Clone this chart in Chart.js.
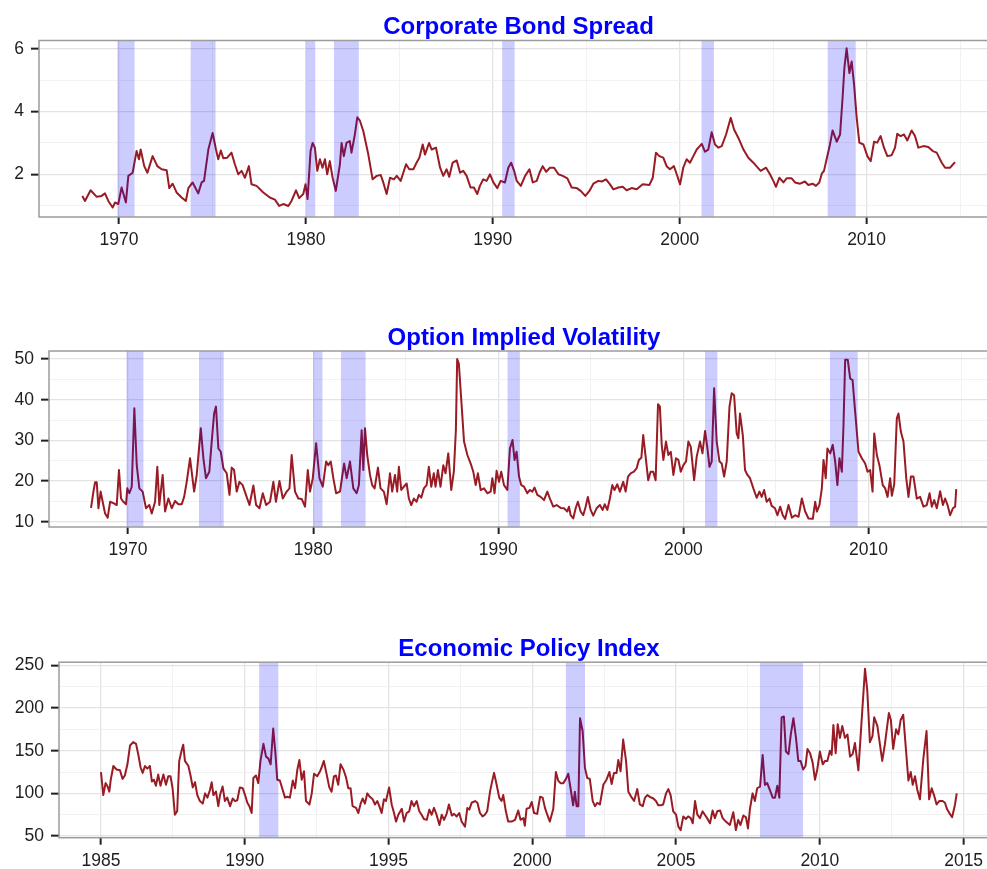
<!DOCTYPE html>
<html><head><meta charset="utf-8">
<script src="https://cdn.jsdelivr.net/npm/chart.js@4.4.1/dist/chart.umd.min.js"></script>
<style>
html,body{margin:0;padding:0;background:#fff;overflow:hidden;}
#wrap{position:relative;width:987px;height:869px;overflow:hidden;background:#fff;}
canvas{position:absolute;left:0;}
</style></head><body>
<div id="wrap">
<canvas id="c1" width="1000" height="262" style="top:0px"></canvas>
<canvas id="c2" width="1000" height="272" style="top:300px"></canvas>
<canvas id="c3" width="1000" height="269" style="top:600px"></canvas>
</div>
<script>
// ---------- DATA ----------
const recessionStart = [1969.917, 1973.833, 1980.0, 1981.5, 1990.5, 2001.167, 2007.917];
const recessionEnd   = [1970.833, 1975.167, 1980.5, 1982.833, 1991.167, 2001.833, 2009.417];

// Corporate Bond Spread
const cbsYears = [1968.04,1968.18,1968.48,1968.81,1969.07,1969.25,1969.43,1969.66,1969.79,1969.96,1970.14,1970.37,1970.50,1970.73,1970.94,1971.07,1971.16,1971.35,1971.52,1971.80,1972.05,1972.28,1972.55,1972.69,1972.87,1973.08,1973.35,1973.58,1973.71,1973.94,1974.24,1974.42,1974.55,1974.78,1975.01,1975.19,1975.31,1975.45,1975.58,1975.79,1976.02,1976.20,1976.38,1976.56,1976.74,1976.95,1977.09,1977.36,1977.72,1978.07,1978.34,1978.57,1978.79,1979.06,1979.23,1979.47,1979.64,1979.86,1979.98,1980.09,1980.25,1980.36,1980.48,1980.61,1980.75,1980.89,1981.02,1981.14,1981.28,1981.43,1981.60,1981.82,1981.91,1982.03,1982.17,1982.35,1982.44,1982.62,1982.75,1982.89,1983.07,1983.34,1983.57,1983.79,1984.00,1984.14,1984.32,1984.50,1984.71,1984.86,1985.07,1985.36,1985.53,1985.75,1985.92,1986.07,1986.25,1986.37,1986.59,1986.73,1986.96,1987.18,1987.35,1987.53,1987.67,1987.85,1988.07,1988.25,1988.42,1988.60,1988.81,1988.99,1989.17,1989.31,1989.49,1989.67,1989.85,1990.03,1990.24,1990.42,1990.65,1990.83,1990.98,1991.14,1991.28,1991.50,1991.73,1991.96,1992.14,1992.35,1992.50,1992.67,1992.85,1993.06,1993.28,1993.51,1993.74,1993.99,1994.22,1994.49,1994.70,1994.95,1995.17,1995.38,1995.65,1995.83,1996.06,1996.27,1996.45,1996.72,1996.95,1997.16,1997.43,1997.70,1998.02,1998.38,1998.56,1998.73,1998.91,1999.12,1999.30,1999.48,1999.69,1999.84,2000.02,2000.19,2000.37,2000.55,2000.73,2000.91,2001.18,2001.35,2001.53,2001.71,2001.89,2002.07,2002.25,2002.48,2002.73,2002.91,2003.14,2003.41,2003.67,2003.94,2004.15,2004.33,2004.62,2004.83,2005.01,2005.15,2005.33,2005.55,2005.72,2005.99,2006.17,2006.44,2006.70,2006.88,2007.11,2007.29,2007.47,2007.60,2007.72,2007.86,2008.04,2008.18,2008.40,2008.58,2008.72,2008.81,2008.93,2009.08,2009.20,2009.33,2009.47,2009.61,2009.83,2010.04,2010.22,2010.40,2010.57,2010.75,2010.93,2011.11,2011.34,2011.52,2011.64,2011.82,2012.00,2012.18,2012.41,2012.59,2012.77,2013.04,2013.30,2013.54,2013.75,2014.02,2014.20,2014.46,2014.73];
const cbsValues = [1.31,1.15,1.49,1.28,1.31,1.39,1.15,0.94,1.10,1.05,1.58,1.10,1.95,2.05,2.74,2.48,2.79,2.26,2.05,2.58,2.26,2.16,2.13,1.56,1.70,1.42,1.26,1.15,1.56,1.74,1.39,1.74,1.79,2.79,3.32,2.79,2.48,2.76,2.51,2.53,2.69,2.32,2.00,2.11,1.89,2.26,1.68,1.63,1.42,1.26,1.19,0.99,1.05,0.99,1.15,1.49,1.24,1.37,1.68,1.21,2.74,3.00,2.85,2.11,2.48,2.21,2.48,2.00,2.42,1.89,1.47,2.32,3.00,2.58,3.00,3.06,2.69,3.27,3.82,3.71,3.38,2.63,1.84,1.95,1.98,1.74,1.37,1.89,1.84,1.95,1.79,2.32,2.16,2.16,2.37,2.53,2.95,2.63,3.00,2.79,2.85,2.21,1.95,2.16,1.92,2.37,2.44,2.05,2.11,1.95,1.58,1.58,1.37,1.63,1.84,1.79,2.00,1.74,1.56,1.79,1.74,2.21,2.37,2.11,1.79,1.63,1.95,2.16,1.74,1.79,2.05,2.26,2.08,2.21,2.21,2.00,1.95,1.87,1.58,1.56,1.47,1.31,1.47,1.70,1.79,1.77,1.84,1.68,1.52,1.58,1.60,1.49,1.56,1.52,1.68,1.66,1.89,2.69,2.58,2.53,2.26,2.16,2.26,2.00,1.68,2.21,2.48,2.37,2.58,2.79,2.97,2.72,2.79,3.34,2.95,2.85,2.90,3.27,3.80,3.43,3.16,2.79,2.53,2.37,2.23,2.11,2.21,2.00,1.79,1.60,1.89,1.74,1.87,1.87,1.74,1.70,1.77,1.66,1.70,1.63,1.74,2.02,2.11,2.48,2.95,3.40,3.04,3.27,4.49,5.39,6.02,5.23,5.60,4.86,3.80,3.01,2.95,2.58,2.42,3.04,3.01,3.22,2.85,2.58,2.61,2.85,3.29,3.22,3.27,3.08,3.40,3.22,2.85,2.90,2.87,2.74,2.69,2.37,2.21,2.21,2.39];

// Option Implied Volatility
const oivYears = [1968.00,1968.13,1968.22,1968.31,1968.40,1968.52,1968.63,1968.76,1968.90,1969.03,1969.24,1969.39,1969.51,1969.62,1969.75,1969.89,1969.96,1970.07,1970.20,1970.34,1970.47,1970.61,1970.79,1970.97,1971.15,1971.28,1971.46,1971.58,1971.69,1971.87,1972.00,1972.18,1972.36,1972.54,1972.72,1972.90,1973.03,1973.17,1973.35,1973.57,1973.71,1973.93,1974.07,1974.21,1974.39,1974.52,1974.65,1974.75,1974.88,1975.01,1975.15,1975.33,1975.48,1975.60,1975.73,1975.87,1976.02,1976.19,1976.37,1976.56,1976.77,1976.92,1977.10,1977.28,1977.46,1977.67,1977.85,1977.99,1978.18,1978.36,1978.57,1978.72,1978.84,1979.02,1979.20,1979.38,1979.56,1979.71,1979.83,1979.98,1980.16,1980.34,1980.52,1980.70,1980.82,1980.95,1981.09,1981.24,1981.45,1981.67,1981.81,1981.99,1982.17,1982.35,1982.47,1982.62,1982.71,1982.80,1982.92,1983.07,1983.19,1983.32,1983.50,1983.64,1983.82,1983.97,1984.15,1984.27,1984.42,1984.54,1984.63,1984.76,1984.90,1985.05,1985.17,1985.30,1985.44,1985.59,1985.71,1985.84,1985.98,1986.13,1986.25,1986.38,1986.52,1986.61,1986.74,1986.88,1987.03,1987.15,1987.30,1987.46,1987.60,1987.71,1987.78,1987.87,1988.02,1988.15,1988.33,1988.51,1988.65,1988.78,1988.90,1989.05,1989.23,1989.41,1989.59,1989.68,1989.80,1989.91,1990.04,1990.16,1990.31,1990.49,1990.63,1990.77,1990.88,1990.99,1991.12,1991.24,1991.39,1991.57,1991.71,1991.84,1991.96,1992.11,1992.29,1992.47,1992.65,1992.79,1992.97,1993.15,1993.37,1993.55,1993.73,1993.82,1993.91,1994.05,1994.18,1994.30,1994.45,1994.59,1994.72,1994.84,1994.99,1995.13,1995.31,1995.49,1995.64,1995.75,1995.89,1996.03,1996.16,1996.28,1996.43,1996.57,1996.75,1996.88,1997.01,1997.15,1997.33,1997.47,1997.60,1997.73,1997.83,1997.96,1998.10,1998.23,1998.37,1998.50,1998.63,1998.73,1998.83,1998.92,1999.06,1999.19,1999.32,1999.46,1999.60,1999.73,1999.86,2000.00,2000.14,2000.27,2000.40,2000.58,2000.72,2000.90,2001.03,2001.17,2001.30,2001.41,2001.53,2001.66,2001.80,2001.95,2002.07,2002.20,2002.34,2002.49,2002.61,2002.74,2002.88,2002.97,2003.06,2003.21,2003.33,2003.46,2003.60,2003.78,2003.96,2004.11,2004.23,2004.36,2004.50,2004.65,2004.77,2004.95,2005.08,2005.23,2005.37,2005.50,2005.68,2005.86,2006.04,2006.22,2006.40,2006.58,2006.76,2006.99,2007.12,2007.21,2007.35,2007.48,2007.57,2007.69,2007.78,2007.93,2008.07,2008.20,2008.32,2008.43,2008.56,2008.65,2008.74,2008.88,2009.01,2009.14,2009.28,2009.46,2009.64,2009.82,2009.95,2010.09,2010.22,2010.31,2010.45,2010.59,2010.77,2010.90,2011.03,2011.17,2011.26,2011.39,2011.53,2011.62,2011.75,2011.89,2012.04,2012.16,2012.29,2012.43,2012.61,2012.79,2012.97,2013.15,2013.30,2013.42,2013.55,2013.69,2013.87,2014.02,2014.14,2014.27,2014.41,2014.56,2014.68,2014.74];
const oivValues = [13.4,17.4,19.7,19.7,13.3,17.4,14.9,12.0,11.0,14.9,14.5,14.1,22.7,15.7,14.9,14.3,18.2,17.0,18.6,37.9,23.9,18.2,17.4,13.3,14.1,12.0,14.9,23.5,14.1,21.5,12.5,15.7,13.3,15.1,14.3,14.3,16.1,19.8,25.6,17.4,21.5,33.0,25.6,20.7,22.3,29.7,36.6,38.3,28.0,27.2,23.1,21.9,16.6,23.3,22.7,17.4,19.8,19.0,16.6,14.1,18.9,14.1,13.3,17.0,14.1,14.9,19.8,14.9,20.0,15.7,17.4,18.2,26.4,17.4,15.7,15.6,13.7,22.7,17.4,20.7,29.3,20.7,18.6,24.8,23.9,24.8,20.7,17.0,17.4,24.3,20.7,24.8,18.2,17.0,19.0,32.5,22.7,33.0,26.4,21.5,19.0,18.2,23.3,18.2,17.4,14.3,21.9,17.4,21.5,17.4,23.5,17.8,18.6,19.4,15.7,14.1,15.7,14.9,16.6,15.9,18.2,19.0,23.5,18.6,21.9,18.6,22.7,18.6,23.9,21.9,26.8,17.8,22.3,32.5,50.0,48.9,38.7,29.7,26.4,24.3,22.3,19.0,21.9,17.8,18.2,17.0,17.4,20.7,17.0,22.5,19.8,22.3,19.0,17.8,28.0,30.1,25.2,27.2,21.1,19.0,18.6,17.0,17.8,17.4,18.4,16.6,16.1,15.3,17.4,15.7,13.7,14.1,13.4,13.3,12.5,13.7,11.6,10.8,13.3,14.9,12.5,11.6,13.7,16.1,12.9,11.5,13.3,14.1,12.9,14.3,12.9,15.7,19.0,17.8,19.2,17.4,19.8,17.4,21.1,21.9,22.3,23.1,25.2,25.7,31.3,26.0,20.2,22.3,22.3,20.2,38.9,38.3,28.9,25.2,29.7,26.4,27.2,21.5,25.6,25.2,22.3,23.9,24.8,29.7,28.4,20.2,26.0,29.7,26.8,32.3,28.0,23.5,24.8,42.8,29.7,24.8,24.3,21.1,24.8,38.3,41.6,41.1,31.7,30.5,36.6,31.3,22.7,21.5,20.7,18.2,15.9,17.4,16.1,17.8,14.9,15.7,13.9,13.3,11.6,13.7,11.6,10.7,14.1,11.0,11.6,11.2,15.7,12.5,10.8,10.7,14.9,12.5,14.1,18.2,25.2,20.7,28.0,26.8,28.9,24.8,19.0,25.6,22.3,33.8,49.8,49.8,45.2,44.8,37.0,27.2,25.6,24.3,22.3,22.7,17.4,31.7,26.4,23.9,19.0,18.2,16.1,20.7,16.4,19.2,35.4,36.6,32.1,29.7,20.7,16.1,21.1,21.1,15.7,16.1,13.7,14.1,17.0,13.7,15.3,13.3,17.5,14.1,15.7,14.1,11.6,13.3,13.7,18.0];

// Economic Policy Index
const epuYears = [1985.00,1985.08,1985.16,1985.23,1985.29,1985.34,1985.43,1985.54,1985.66,1985.75,1985.83,1985.92,1986.01,1986.12,1986.22,1986.30,1986.38,1986.45,1986.53,1986.61,1986.70,1986.77,1986.84,1986.91,1986.99,1987.07,1987.17,1987.26,1987.34,1987.42,1987.49,1987.57,1987.65,1987.72,1987.81,1987.86,1987.92,1988.04,1988.12,1988.19,1988.27,1988.35,1988.44,1988.54,1988.62,1988.70,1988.79,1988.85,1988.91,1989.00,1989.08,1989.14,1989.23,1989.31,1989.39,1989.49,1989.58,1989.66,1989.74,1989.83,1989.93,1990.01,1990.09,1990.16,1990.24,1990.30,1990.39,1990.47,1990.55,1990.65,1990.74,1990.82,1990.90,1990.99,1991.07,1991.13,1991.22,1991.32,1991.40,1991.48,1991.57,1991.67,1991.75,1991.83,1991.90,1991.98,1992.06,1992.13,1992.25,1992.33,1992.41,1992.52,1992.62,1992.67,1992.75,1992.85,1992.94,1993.02,1993.10,1993.17,1993.25,1993.33,1993.43,1993.52,1993.60,1993.68,1993.75,1993.87,1993.95,1994.03,1994.10,1994.18,1994.26,1994.35,1994.45,1994.53,1994.61,1994.68,1994.76,1994.84,1994.91,1995.02,1995.11,1995.19,1995.26,1995.34,1995.46,1995.54,1995.63,1995.72,1995.80,1995.88,1995.98,1996.07,1996.15,1996.23,1996.33,1996.42,1996.50,1996.58,1996.67,1996.77,1996.85,1996.93,1997.02,1997.10,1997.20,1997.28,1997.37,1997.46,1997.54,1997.66,1997.74,1997.81,1997.89,1998.01,1998.09,1998.18,1998.27,1998.35,1998.43,1998.53,1998.59,1998.67,1998.76,1998.85,1998.93,1998.99,1999.08,1999.16,1999.28,1999.40,1999.51,1999.59,1999.69,1999.74,1999.80,1999.90,1999.98,2000.06,2000.17,2000.27,2000.36,2000.44,2000.52,2000.61,2000.73,2000.82,2000.90,2000.98,2001.08,2001.17,2001.25,2001.33,2001.42,2001.48,2001.54,2001.60,2001.66,2001.75,2001.83,2001.91,2002.00,2002.10,2002.18,2002.26,2002.35,2002.47,2002.58,2002.68,2002.76,2002.84,2002.93,2002.99,2003.07,2003.16,2003.26,2003.34,2003.46,2003.54,2003.65,2003.74,2003.84,2003.92,2004.00,2004.09,2004.21,2004.30,2004.38,2004.46,2004.55,2004.65,2004.73,2004.81,2004.90,2005.00,2005.08,2005.16,2005.25,2005.34,2005.42,2005.51,2005.58,2005.66,2005.74,2005.83,2005.92,2006.00,2006.08,2006.18,2006.27,2006.35,2006.43,2006.53,2006.62,2006.73,2006.87,2006.99,2007.08,2007.16,2007.24,2007.34,2007.43,2007.50,2007.57,2007.66,2007.74,2007.82,2007.92,2008.01,2008.09,2008.17,2008.26,2008.36,2008.44,2008.52,2008.59,2008.67,2008.75,2008.82,2008.91,2008.99,2009.08,2009.17,2009.25,2009.33,2009.42,2009.50,2009.57,2009.66,2009.75,2009.83,2009.91,2010.00,2010.10,2010.18,2010.26,2010.35,2010.41,2010.47,2010.55,2010.62,2010.70,2010.78,2010.87,2010.96,2011.05,2011.14,2011.22,2011.34,2011.45,2011.57,2011.65,2011.74,2011.83,2011.89,2012.00,2012.09,2012.17,2012.26,2012.40,2012.47,2012.55,2012.65,2012.73,2012.81,2012.90,2012.99,2013.08,2013.16,2013.23,2013.31,2013.39,2013.48,2013.60,2013.71,2013.80,2013.89,2013.97,2014.06,2014.15,2014.27,2014.35,2014.43,2014.52,2014.60,2014.70,2014.76];
const epuValues = [125,98,112,108,102,116,132,128,127,117,121,134,156,160,158,145,130,124,132,129,132,114,116,109,122,109,122,110,120,120,106,75,79,138,151,157,138,132,120,107,113,98,91,88,100,95,104,113,98,102,85,98,108,91,95,85,94,91,92,107,106,98,89,85,77,118,121,112,139,158,143,141,134,176,145,116,115,104,95,96,95,115,106,128,139,116,126,91,87,100,123,120,126,130,138,122,107,102,120,121,110,134,128,119,106,106,85,83,77,88,94,88,100,96,93,87,91,85,77,93,91,107,87,77,67,75,82,67,77,79,91,85,91,79,75,70,69,81,75,83,75,63,75,69,76,87,74,76,73,77,67,61,83,81,89,91,89,77,73,75,79,102,112,124,110,95,91,98,79,67,67,69,80,69,71,62,82,83,90,77,76,96,95,83,75,67,82,125,115,112,112,117,123,106,86,102,85,85,188,173,130,118,117,91,85,89,87,110,116,125,111,124,124,139,126,163,138,102,95,91,105,87,85,95,98,96,94,91,86,86,87,100,105,98,79,75,61,57,73,70,73,71,65,91,75,71,79,75,71,65,80,71,79,80,71,67,63,78,57,69,63,74,72,59,82,100,91,106,108,145,110,112,104,95,95,109,95,189,190,149,146,169,188,165,138,138,128,132,152,147,136,116,128,149,134,138,138,150,145,180,147,181,165,179,165,169,143,146,159,127,184,246,220,160,167,189,179,157,138,157,194,186,152,175,169,186,192,153,115,125,110,120,104,93,141,173,93,106,98,87,91,91,89,81,76,72,87,100];

// Axis ticks (major = labelled, minor = grid only)
const cbsYMajor = [2, 4, 6],            cbsYMinor = [1, 3, 5];
const cbsXMajor = [1970, 1980, 1990, 2000, 2010], cbsXMinor = [1965, 1975, 1985, 1995, 2005, 2015];
const oivYMajor = [10, 20, 30, 40, 50], oivYMinor = [15, 25, 35, 45];
const oivXMajor = [1970, 1980, 1990, 2000, 2010], oivXMinor = [1965, 1975, 1985, 1995, 2005, 2015];
const epuYMajor = [50, 100, 150, 200, 250], epuYMinor = [75, 125, 175, 225];
const epuXMajor = [1985, 1990, 1995, 2000, 2005, 2010, 2015], epuXMinor = [1987.5, 1992.5, 1997.5, 2002.5, 2007.5, 2012.5];

const titles = ['Corporate Bond Spread', 'Option Implied Volatility', 'Economic Policy Index'];

// ---------- STYLE ----------
const LINE = '#991b24';
const BAND = 'rgba(0,0,255,0.2)';
const GRID_MAJOR = '#e3e3e3', GRID_MINOR = '#f2f2f2';
const FRAME = '#9c9c9c';
const TEXT = '#1e1e1e';
const FONT = "'Liberation Sans', Arial, Helvetica, sans-serif";

const bandsPlugin = {
  id: 'recessionBands',
  afterDatasetsDraw(chart) {
    const {ctx, chartArea: a, scales: {x}} = chart;
    ctx.save();
    ctx.beginPath(); ctx.rect(a.left, a.top, a.width, a.height); ctx.clip();
    ctx.fillStyle = BAND;
    recessionStart.forEach((s, i) => {
      const x1 = x.getPixelForValue(s), x2 = x.getPixelForValue(recessionEnd[i]);
      ctx.fillRect(x1, a.top, x2 - x1, a.height);
    });
    ctx.restore();
  }
};
const framePlugin = {
  id: 'panelFrame',
  afterDraw(chart) {
    const {ctx, chartArea: a} = chart;
    ctx.save(); ctx.strokeStyle = FRAME; ctx.lineWidth = 1.5;
    ctx.strokeRect(a.left, a.top, a.width, a.height); ctx.restore();
  }
};

function axis(min, max, major, minor, isX, size) {
  const all = major.concat(minor).filter(v => v >= min && v <= max).sort((a, b) => a - b);
  return {
    type: 'linear', min, max,
    afterBuildTicks: s => { s.ticks = all.map(v => ({value: v})); },
    afterFit: s => { if (isX) s.height = size; else s.width = size; },
    border: {display: false},
    grid: {
      color: c => major.includes(c.tick.value) ? GRID_MAJOR : GRID_MINOR,
      lineWidth: c => major.includes(c.tick.value) ? 1.3 : 1,
      drawTicks: true,
      tickLength: isX ? 7 : 8,
      tickWidth: 2,
      tickColor: c => major.includes(c.tick.value) ? '#222' : 'rgba(0,0,0,0)'
    },
    ticks: {
      autoSkip: false, maxRotation: 0, minRotation: 0,
      padding: isX ? 5.5 : 7.1,
      color: TEXT,
      font: {family: FONT, size: 17.5, lineHeight: 1.2},
      callback: v => major.includes(v) ? String(v) : ''
    }
  };
}

function makePanel(id, p) {
  new Chart(document.getElementById(id), {
    type: 'line',
    data: {datasets: [{
      data: p.years.map((x, i) => ({x, y: p.values[i]})),
      borderColor: LINE, borderWidth: 2, pointRadius: 0, tension: 0,
      borderJoinStyle: 'round', fill: false
    }]},
    options: {
      responsive: false, animation: false, devicePixelRatio: 1,
      layout: {padding: {left: 0, top: 0, bottom: 0, right: p.padRight}},
      plugins: {
        legend: {display: false}, tooltip: {enabled: false},
        title: {
          display: true, text: p.title, color: '#0000ff', fullSize: false,
          font: {family: FONT, size: 24, weight: 'bold', lineHeight: 1},
          padding: {top: p.titleTop, bottom: p.titleBottom}
        }
      },
      scales: {
        x: axis(p.xMin, p.xMax, p.xMajor, p.xMinor, true, p.axisHeight),
        y: axis(p.yMin, p.yMax, p.yMajor, p.yMinor, false, p.axisWidth)
      }
    },
    plugins: [bandsPlugin, framePlugin]
  });
}

makePanel('c1', {title: titles[0], years: cbsYears, values: cbsValues,
  xMin: 1965.72, xMax: 2017.03, xMajor: cbsXMajor, xMinor: cbsXMinor,
  yMin: 0.637, yMax: 6.27, yMajor: cbsYMajor, yMinor: cbsYMinor,
  axisWidth: 39, axisHeight: 45, padRight: 2, titleTop: 15.5, titleBottom: 1});
makePanel('c2', {title: titles[1], years: oivYears, values: oivValues,
  xMin: 1965.73, xMax: 2017.05, xMajor: oivXMajor, xMinor: oivXMinor,
  yMin: 8.70, yMax: 51.97, yMajor: oivYMajor, yMinor: oivYMinor,
  axisWidth: 49, axisHeight: 45, padRight: 1, titleTop: 26, titleBottom: 1});
makePanel('c3', {title: titles[2], years: epuYears, values: epuValues,
  xMin: 1983.54, xMax: 2016.23, xMajor: epuXMajor, xMinor: epuXMinor,
  yMin: 48.1, yMax: 253.6, yMajor: epuYMajor, yMinor: epuYMinor,
  axisWidth: 59, axisHeight: 31.3, padRight: 1, titleTop: 37.2, titleBottom: 1});
</script>
</body></html>
